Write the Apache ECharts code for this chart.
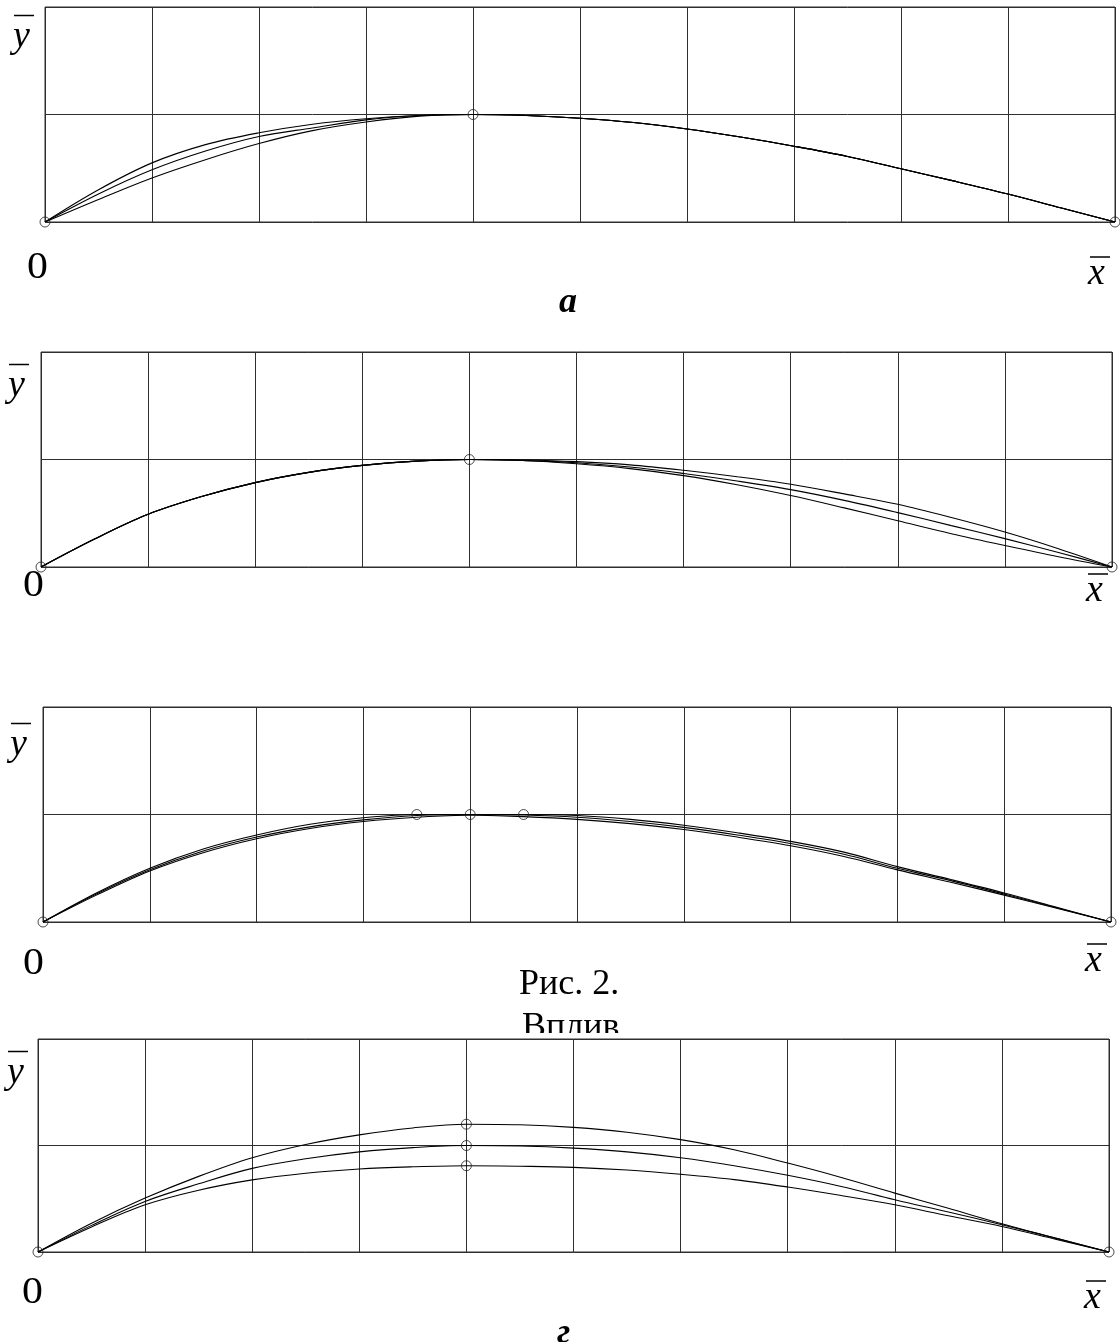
<!DOCTYPE html>
<html>
<head>
<meta charset="utf-8">
<script src="https://cdn.jsdelivr.net/npm/echarts@6/dist/echarts.min.js"></script>
<style>
html,body{margin:0;padding:0;background:#fff;}
#chart{width:1120px;height:1342px;}
</style>
</head>
<body>
<div id="chart"></div>
<script>
// ---- data ----
const xValues = [0,0.05,0.1,0.15,0.2,0.25,0.3,0.35,0.4,0.45,0.5,0.55,0.6,0.65,0.7,0.75,0.8,0.85,0.9,0.95,1];

// panel a
const aUpper  = [0,0.30,0.55,0.72,0.83,0.91,0.96,0.99,1.0,0.99,0.965,0.925,0.865,0.79,0.705,0.61,0.495,0.38,0.26,0.13,0];
const aMiddle = [0,0.26,0.485,0.66,0.795,0.875,0.95,0.99,1.0,0.99,0.965,0.925,0.865,0.79,0.705,0.61,0.495,0.38,0.26,0.13,0];
const aLower  = [0,0.21,0.41,0.58,0.73,0.85,0.93,0.985,1.0,0.99,0.965,0.925,0.865,0.79,0.705,0.61,0.495,0.38,0.26,0.13,0];
const aMarkers = [[0,0],[0.4,1],[1,0]];

// panel b
const bUpper  = [0,0.26,0.49,0.655,0.785,0.88,0.945,0.985,1.0,0.995,0.98,0.95,0.9,0.84,0.77,0.68,0.583,0.46,0.325,0.17,0];
const bMiddle = [0,0.26,0.49,0.655,0.785,0.88,0.945,0.985,1.0,0.99,0.97,0.93,0.87,0.8,0.72,0.62,0.506,0.385,0.264,0.135,0];
const bLower  = [0,0.26,0.49,0.655,0.785,0.88,0.945,0.985,1.0,0.99,0.96,0.915,0.85,0.765,0.665,0.55,0.43,0.31,0.2,0.095,0];
const bMarkers = [[0,0],[0.4,1],[1,0]];

// panel c
const cLeftPeak  = [0,0.27,0.5,0.68,0.81,0.91,0.97,1.0,0.995,0.98,0.955,0.915,0.86,0.79,0.71,0.61,0.485,0.37,0.25,0.125,0];
const cMidPeak   = [0,0.26,0.485,0.66,0.79,0.885,0.95,0.99,1.0,0.995,0.975,0.935,0.88,0.81,0.73,0.63,0.5,0.385,0.26,0.13,0];
const cRightPeak = [0,0.25,0.475,0.645,0.775,0.87,0.935,0.975,0.995,1.0,0.99,0.955,0.9,0.83,0.75,0.65,0.515,0.395,0.27,0.135,0];
const cMarkers = [[0,0],[0.35,1],[0.4,1],[0.45,1],[1,0]];

// panel d
const dHigh = [0,0.27,0.506,0.71,0.885,1.01,1.1,1.165,1.2,1.195,1.17,1.125,1.055,0.96,0.835,0.7,0.553,0.41,0.265,0.13,0];
const dMid  = [0,0.25,0.475,0.64,0.785,0.875,0.94,0.98,1.0,0.995,0.975,0.94,0.885,0.81,0.72,0.615,0.49,0.375,0.256,0.13,0];
const dLow  = [0,0.235,0.443,0.58,0.677,0.74,0.78,0.8,0.81,0.805,0.795,0.77,0.73,0.68,0.61,0.53,0.443,0.34,0.24,0.12,0];
const dMarkers = [[0,0],[0.4,1.2],[0.4,1.0],[0.4,0.81],[1,0]];

const xTickInterval = 0.1;
const yTickInterval = 1;
const yMax = 2;

// ---- build chart ----
const panels = [
  {grid:{left:45, top:7, width:1070, height:215}, curves:[aUpper,aMiddle,aLower], markers:aMarkers},
  {grid:{left:41, top:352, width:1071, height:215}, curves:[bUpper,bMiddle,bLower], markers:bMarkers},
  {grid:{left:43, top:707, width:1068, height:215}, curves:[cLeftPeak,cMidPeak,cRightPeak], markers:cMarkers},
  {grid:{left:38, top:1039, width:1071, height:213}, curves:[dHigh,dMid,dLow], markers:dMarkers}
];

const gridColor = '#2e2e2e';
const grids = [], xAxes = [], yAxes = [], series = [];
panels.forEach((p, i) => {
  grids.push(Object.assign({show:true, borderColor:gridColor, borderWidth:1, backgroundColor:'transparent'}, p.grid));
  xAxes.push({type:'value', gridIndex:i, min:0, max:1, interval:xTickInterval,
    axisLine:{show:false}, axisTick:{show:false}, axisLabel:{show:false},
    splitLine:{show:true, lineStyle:{color:gridColor, width:1}}});
  yAxes.push({type:'value', gridIndex:i, min:0, max:yMax, interval:yTickInterval,
    axisLine:{show:false}, axisTick:{show:false}, axisLabel:{show:false},
    splitLine:{show:true, lineStyle:{color:gridColor, width:1}}});
  p.curves.forEach(vals => {
    series.push({type:'line', xAxisIndex:i, yAxisIndex:i, smooth:0.35, showSymbol:false,
      lineStyle:{color:'#000', width:1.1}, data: xValues.map((x,k)=>[x, vals[k]]), z:3});
  });
  series.push({type:'scatter', xAxisIndex:i, yAxisIndex:i, symbol:'circle', symbolSize:10,
    itemStyle:{color:'rgba(0,0,0,0)', borderColor:'#222', borderWidth:1}, data:p.markers, z:4});
});

const serif = '"Liberation Serif","Times New Roman",serif';
function bar(x1, x2, y) {
  return {type:'line', z:10, shape:{x1:x1, y1:y, x2:x2, y2:y}, style:{stroke:'#000', lineWidth:1.5}};
}
const graphics = [];
// y-bar labels
[[13,14],[8,363],[10,722],[7,1050]].forEach(([x,y]) => {
  graphics.push({type:'text', x:x, y:y+4, z:10, style:{text:'y', font:'italic 38px ' + serif, fill:'#000'}});
  graphics.push(bar(x+1, x+21, y+1.5));
});
// x-bar labels
[[1088,256],[1086,573],[1085,943],[1084,1280]].forEach(([x,y]) => {
  graphics.push({type:'text', x:x, y:y-1, z:10, style:{text:'x', font:'italic 38px ' + serif, fill:'#000'}});
  graphics.push(bar(x+2, x+22, y+1));
});
// zero labels
[[27,249],[23,567],[23,945],[22,1274]].forEach(([x,y]) => {
  graphics.push({type:'text', x:x, y:y, scaleX:1.1, z:10, style:{text:'0', font:'38px ' + serif, fill:'#000'}});
});
// panel letters
graphics.push({type:'text', x:559, y:285, z:10, style:{text:'a', font:'italic bold 36px ' + serif, fill:'#000'}});
graphics.push({type:'text', x:557, y:1316, z:10, style:{text:'г', font:'italic bold 36px ' + serif, fill:'#000'}});
// caption
graphics.push({type:'text', x:519, y:967, z:10, style:{text:'Рис. 2.', font:'36px ' + serif, fill:'#000'}});
graphics.push({type:'text', x:522, y:1010, z:-3, style:{text:'Вплив', font:'36px ' + serif, fill:'#000'}});
graphics.push({type:'rect', z:-2, shape:{x:500, y:1033, width:150, height:40}, style:{fill:'#fff'}});

const chart = echarts.init(document.getElementById('chart'), null, {renderer:'canvas'});
chart.setOption({
  animation:false,
  backgroundColor:'#fff',
  grid:grids, xAxis:xAxes, yAxis:yAxes, series:series,
  graphic:graphics
});
</script>
</body>
</html>
